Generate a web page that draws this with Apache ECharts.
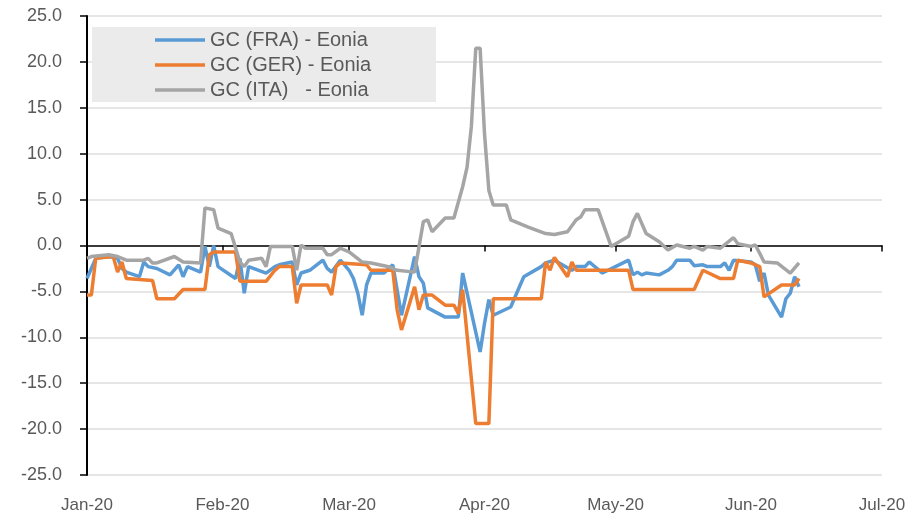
<!DOCTYPE html>
<html>
<head>
<meta charset="utf-8">
<script src="https://cdn.jsdelivr.net/npm/echarts@6/dist/echarts.min.js"></script>
<style>
  html, body { margin: 0; padding: 0; background: #ffffff; }
  #chart { width: 919px; height: 519px; }
</style>
</head>
<body>
<div id="chart"></div>
<script>
// GC repo spreads against Eonia (bp), 2020
const seriesNames = ['GC (FRA) - Eonia', 'GC (GER) - Eonia', 'GC (ITA)   - Eonia'];
const monthLabels = ['Jan', 'Feb', 'Mar', 'Apr', 'May', 'Jun', 'Jul', 'Aug', 'Sep', 'Oct', 'Nov', 'Dec'];
const xStart = '2020-01-01';
const xEnd = '2020-07-01';
const yTicks = [-25, -20, -15, -10, -5, 0, 5, 10, 15, 20, 25];

const fraPoints = [
  ['2020-01-01', -3.6], ['2020-01-03', -1.4], ['2020-01-06', -1.2], ['2020-01-08', -1.4],
  ['2020-01-09', -2.5], ['2020-01-10', -2.9], ['2020-01-13', -3.4], ['2020-01-14', -1.8],
  ['2020-01-15', -2.3], ['2020-01-17', -2.5], ['2020-01-20', -3.2], ['2020-01-22', -2.1],
  ['2020-01-23', -3.4], ['2020-01-24', -2.3], ['2020-01-27', -2.9], ['2020-01-28', -0.1],
  ['2020-01-29', -2.3], ['2020-01-30', 0.0], ['2020-01-31', -2.3], ['2020-02-04', -3.6],
  ['2020-02-05', -1.4], ['2020-02-06', -5.2], ['2020-02-07', -2.3], ['2020-02-11', -3.0],
  ['2020-02-13', -2.3], ['2020-02-14', -2.1], ['2020-02-17', -1.8], ['2020-02-18', -4.3],
  ['2020-02-19', -3.0], ['2020-02-21', -2.7], ['2020-02-24', -1.6], ['2020-02-25', -2.5],
  ['2020-02-26', -2.9], ['2020-02-28', -1.6], ['2020-03-01', -2.7], ['2020-03-02', -3.6],
  ['2020-03-03', -5.2], ['2020-03-04', -7.6], ['2020-03-05', -4.3], ['2020-03-06', -3.0],
  ['2020-03-09', -3.0], ['2020-03-11', -2.1], ['2020-03-13', -7.6], ['2020-03-16', -1.2],
  ['2020-03-17', -3.4], ['2020-03-18', -4.1], ['2020-03-19', -6.8], ['2020-03-23', -7.8],
  ['2020-03-26', -7.8], ['2020-03-27', -3.0], ['2020-03-31', -11.6], ['2020-04-01', -8.5],
  ['2020-04-02', -5.9], ['2020-04-03', -7.6], ['2020-04-07', -6.7], ['2020-04-09', -4.5],
  ['2020-04-10', -3.4], ['2020-04-14', -2.3], ['2020-04-15', -1.9], ['2020-04-17', -1.6],
  ['2020-04-21', -2.7], ['2020-04-22', -2.3], ['2020-04-24', -2.3], ['2020-04-25', -1.8],
  ['2020-04-28', -3.0], ['2020-05-04', -1.6], ['2020-05-05', -3.2], ['2020-05-06', -2.9],
  ['2020-05-07', -3.2], ['2020-05-08', -3.0], ['2020-05-11', -3.2], ['2020-05-13', -2.7],
  ['2020-05-14', -2.3], ['2020-05-15', -1.6], ['2020-05-18', -1.6], ['2020-05-19', -2.2],
  ['2020-05-21', -2.1], ['2020-05-22', -2.3], ['2020-05-25', -2.3], ['2020-05-26', -1.9],
  ['2020-05-27', -2.7], ['2020-05-28', -1.6], ['2020-06-01', -1.8], ['2020-06-02', -2.1],
  ['2020-06-03', -3.9], ['2020-06-04', -3.0], ['2020-06-05', -5.4], ['2020-06-08', -7.8],
  ['2020-06-09', -5.8], ['2020-06-10', -5.2], ['2020-06-11', -3.4], ['2020-06-12', -4.5]
];

const gerPoints = [
  ['2020-01-01', -5.4], ['2020-01-02', -5.4], ['2020-01-03', -1.4], ['2020-01-07', -1.2],
  ['2020-01-08', -2.9], ['2020-01-09', -1.8], ['2020-01-10', -3.6], ['2020-01-16', -3.8],
  ['2020-01-17', -5.8], ['2020-01-21', -5.8], ['2020-01-23', -4.8], ['2020-01-28', -4.8],
  ['2020-01-29', -1.0], ['2020-01-30', -0.7], ['2020-02-04', -0.7], ['2020-02-05', -3.9],
  ['2020-02-11', -3.9], ['2020-02-13', -2.7], ['2020-02-14', -2.3], ['2020-02-17', -2.3],
  ['2020-02-18', -6.3], ['2020-02-19', -4.3], ['2020-02-25', -4.3], ['2020-02-26', -5.4],
  ['2020-02-27', -2.3], ['2020-02-28', -1.9], ['2020-03-05', -2.1], ['2020-03-06', -2.7],
  ['2020-03-11', -2.7], ['2020-03-12', -7.0], ['2020-03-13', -9.2], ['2020-03-16', -4.5],
  ['2020-03-17', -7.0], ['2020-03-18', -5.4], ['2020-03-20', -5.4], ['2020-03-23', -6.5],
  ['2020-03-25', -6.5], ['2020-03-26', -7.4], ['2020-03-27', -4.8], ['2020-03-30', -19.4],
  ['2020-04-02', -19.4], ['2020-04-03', -5.8], ['2020-04-14', -5.8], ['2020-04-15', -1.8],
  ['2020-04-16', -2.7], ['2020-04-17', -1.3], ['2020-04-20', -3.4], ['2020-04-21', -1.8],
  ['2020-04-22', -2.7], ['2020-05-04', -2.7], ['2020-05-05', -4.8], ['2020-05-19', -4.8],
  ['2020-05-21', -2.7], ['2020-05-25', -3.6], ['2020-05-28', -3.6], ['2020-05-29', -1.6],
  ['2020-06-01', -1.9], ['2020-06-03', -2.3], ['2020-06-04', -5.6], ['2020-06-08', -4.3],
  ['2020-06-11', -4.3], ['2020-06-12', -3.6]
];

const itaPoints = [
  ['2020-01-01', -1.4], ['2020-01-02', -1.2], ['2020-01-06', -1.0], ['2020-01-08', -1.2],
  ['2020-01-10', -1.6], ['2020-01-14', -1.6], ['2020-01-15', -1.4], ['2020-01-16', -1.9],
  ['2020-01-17', -1.9], ['2020-01-21', -1.2], ['2020-01-23', -1.8], ['2020-01-27', -1.9],
  ['2020-01-28', 4.1], ['2020-01-30', 3.9], ['2020-01-31', 1.9], ['2020-02-03', 1.3],
  ['2020-02-05', -1.8], ['2020-02-06', -2.3], ['2020-02-07', -1.6], ['2020-02-10', -1.4],
  ['2020-02-11', -2.3], ['2020-02-12', -0.1], ['2020-02-17', -0.1], ['2020-02-18', -2.7],
  ['2020-02-19', 0.05], ['2020-02-20', -0.3], ['2020-02-24', -0.3], ['2020-02-25', -1.0],
  ['2020-02-26', -1.0], ['2020-02-28', -0.3], ['2020-03-01', -0.7], ['2020-03-04', -1.8],
  ['2020-03-06', -1.9], ['2020-03-09', -2.2], ['2020-03-10', -2.3], ['2020-03-12', -2.7],
  ['2020-03-16', -2.9], ['2020-03-18', 2.6], ['2020-03-19', 2.8], ['2020-03-20', 1.5],
  ['2020-03-23', 3.0], ['2020-03-25', 3.0], ['2020-03-27', 6.4], ['2020-03-28', 8.5],
  ['2020-03-29', 13.0], ['2020-03-30', 21.5], ['2020-03-31', 21.5], ['2020-04-01', 12.2],
  ['2020-04-02', 6.0], ['2020-04-03', 4.4], ['2020-04-06', 4.4], ['2020-04-07', 2.8],
  ['2020-04-11', 2.0], ['2020-04-15', 1.3], ['2020-04-17', 1.2], ['2020-04-20', 1.5],
  ['2020-04-22', 2.8], ['2020-04-23', 3.1], ['2020-04-24', 3.9], ['2020-04-27', 3.9],
  ['2020-04-30', -0.1], ['2020-05-04', 1.0], ['2020-05-05', 2.6], ['2020-05-06', 3.5],
  ['2020-05-08', 1.3], ['2020-05-11', 0.4], ['2020-05-13', -0.5], ['2020-05-15', 0.05],
  ['2020-05-18', -0.3], ['2020-05-19', -0.1], ['2020-05-21', -0.5], ['2020-05-22', -0.1],
  ['2020-05-25', -0.3], ['2020-05-28', 0.85], ['2020-05-29', 0.2], ['2020-06-01', -0.1],
  ['2020-06-02', 0.05], ['2020-06-03', -0.85], ['2020-06-04', -1.8], ['2020-06-07', -1.9],
  ['2020-06-10', -3.0], ['2020-06-12', -1.9]
];

const colors = ['#5B9BD5', '#ED7D31', '#A5A5A5'];
const textColor = '#595959';
const fontFamily = '"Liberation Sans", Arial, sans-serif';

function monthLabel(value) {
  const d = new Date(value);
  return monthLabels[d.getMonth()] + '-' + String(d.getFullYear()).slice(2);
}

function lineSeries(name, points, color) {
  return {
    name: name,
    type: 'line',
    xAxisIndex: 0,
    data: points,
    symbol: 'none',
    showSymbol: false,
    smooth: false,
    lineStyle: { color: color, width: 3.5 },
    itemStyle: { color: color },
    z: 3
  };
}

const chart = echarts.init(document.getElementById('chart'), null, { renderer: 'canvas' });

chart.setOption({
  animation: false,
  backgroundColor: '#ffffff',
  grid: { left: 87, right: 37, top: 16, bottom: 44 },
  graphic: [{
    type: 'rect',
    shape: { x: 92, y: 27, width: 344, height: 75 },
    style: { fill: '#EBEBEB' },
    z: 5
  }],
  legend: {
    orient: 'vertical',
    left: 155,
    top: 28,
    padding: 0,
    icon: 'rect',
    itemWidth: 50,
    itemHeight: 3.5,
    itemGap: 1,
    z: 10,
    data: seriesNames,
    textStyle: { fontFamily: fontFamily, fontSize: 20, color: textColor, lineHeight: 24 }
  },
  xAxis: [
    {
      type: 'time',
      min: xStart,
      max: xEnd,
      splitNumber: 6,
      minInterval: 28 * 86400000,
      axisLine: { show: true, onZero: true, lineStyle: { color: '#000000', width: 1.5 } },
      axisTick: { show: true, length: 6, lineStyle: { color: '#000000', width: 1.5 } },
      axisLabel: { show: false },
      splitLine: { show: false }
    },
    {
      type: 'time',
      min: xStart,
      max: xEnd,
      splitNumber: 6,
      minInterval: 28 * 86400000,
      position: 'bottom',
      axisLine: { show: false, onZero: false },
      axisTick: { show: false },
      splitLine: { show: false },
      axisLabel: {
        show: true,
        margin: 22,
        formatter: monthLabel,
        fontFamily: fontFamily,
        fontSize: 17,
        color: textColor,
        showMinLabel: true,
        showMaxLabel: true
      }
    }
  ],
  yAxis: {
    type: 'value',
    min: yTicks[0],
    max: yTicks[yTicks.length - 1],
    interval: 5,
    axisLine: { show: true, onZero: false, lineStyle: { color: '#000000', width: 2 } },
    axisTick: { show: true, length: 7, lineStyle: { color: '#000000', width: 1.5 } },
    axisLabel: {
      margin: 25,
      formatter: function (v) { return v.toFixed(1); },
      fontFamily: fontFamily,
      fontSize: 18,
      color: textColor
    },
    splitLine: { show: true, lineStyle: { color: '#E6E6E6', width: 2 } }
  },
  series: [
    lineSeries(seriesNames[0], fraPoints, colors[0]),
    lineSeries(seriesNames[1], gerPoints, colors[1]),
    lineSeries(seriesNames[2], itaPoints, colors[2])
  ]
});
</script>
</body>
</html>
